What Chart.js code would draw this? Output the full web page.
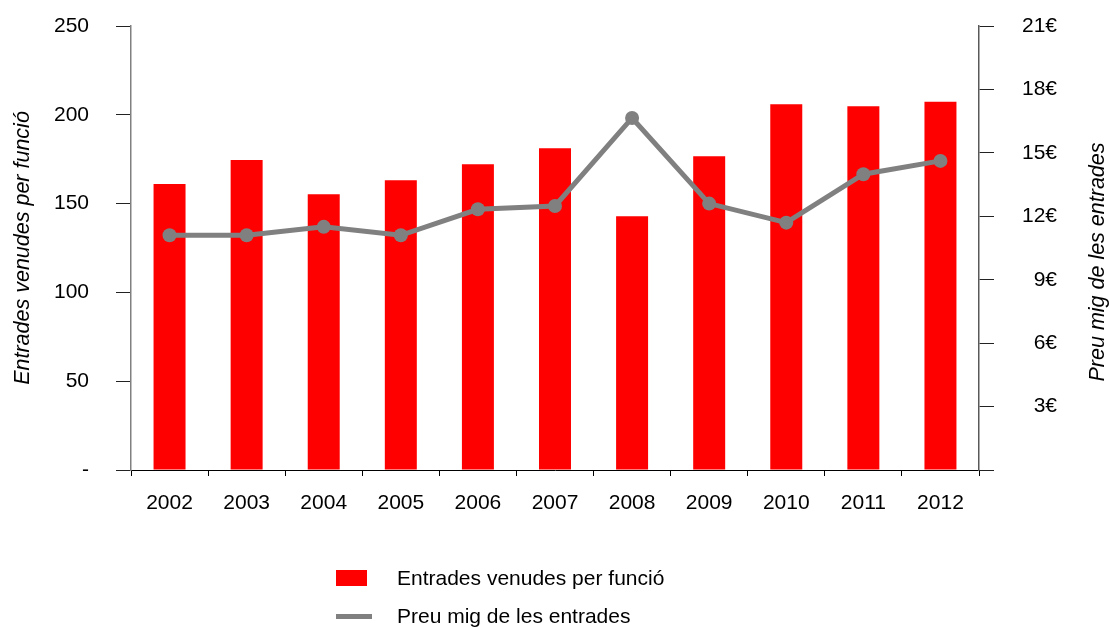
<!DOCTYPE html>
<html>
<head>
<meta charset="utf-8">
<script src="https://cdn.jsdelivr.net/npm/chart.js@4.4.1/dist/chart.umd.min.js"></script>
<style>
  html, body { margin: 0; padding: 0; background: #fff; }
  #wrap { width: 1110px; height: 627px; }
</style>
</head>
<body>
<div id="wrap"><canvas id="c" width="1110" height="627"></canvas></div>
<script>
const years = ['2002','2003','2004','2005','2006','2007','2008','2009','2010','2011','2012'];
const entrades = [161, 174.5, 155.3, 163.2, 172.2, 181.2, 142.9, 176.7, 206, 204.8, 207.3];
const preu = [11.1, 11.1, 11.5, 11.1, 12.33, 12.49, 16.65, 12.6, 11.7, 13.99, 14.62];
const labelBars = 'Entrades venudes per funció';
const labelLine = 'Preu mig de les entrades';
const leftTitle = 'Entrades venudes per funció';
const rightTitle = 'Preu mig de les entrades';

Chart.defaults.font.family = '"Liberation Sans", Arial, sans-serif';
Chart.defaults.color = '#000';

const FONT = 21;

const customDraw = {
  id: 'customDraw',
  afterDraw(chart) {
    const ctx = chart.ctx;
    const ds = chart.data.datasets;
    ctx.save();
    // right axis title, reading bottom to top
    ctx.font = 'italic 21.5px "Liberation Sans", Arial, sans-serif';
    ctx.fillStyle = '#000';
    ctx.textAlign = 'center';
    ctx.textBaseline = 'middle';
    ctx.translate(1098, 262);
    ctx.rotate(-Math.PI / 2);
    ctx.fillText(rightTitle, 0, 0);
    ctx.restore();

    // legend
    ctx.save();
    ctx.font = FONT + 'px "Liberation Sans", Arial, sans-serif';
    ctx.fillStyle = '#000';
    ctx.textAlign = 'left';
    ctx.textBaseline = 'middle';
    const bar = ds.find(d => d.type === 'bar');
    const line = ds.find(d => d.type === 'line');
    ctx.fillStyle = bar.backgroundColor;
    ctx.fillRect(336, 570, 31, 16);
    ctx.fillStyle = '#000';
    ctx.fillText(bar.label, 397, 579);
    ctx.strokeStyle = line.borderColor;
    ctx.lineWidth = 5;
    ctx.beginPath();
    ctx.moveTo(336, 616.5);
    ctx.lineTo(372, 616.5);
    ctx.stroke();
    ctx.fillText(line.label, 397, 617);
    ctx.restore();
  }
};

function fitY(w) {
  return function (s) {
    s.width = w;
    s.paddingTop = 0;
    s.paddingBottom = 0;
  };
}

new Chart(document.getElementById('c'), {
  data: {
    labels: years,
    datasets: [
      {
        type: 'line',
        label: labelLine,
        data: preu,
        yAxisID: 'y2',
        borderColor: '#808080',
        backgroundColor: '#808080',
        borderWidth: 5,
        pointRadius: 7,
        pointBackgroundColor: '#808080',
        pointBorderWidth: 0,
        tension: 0,
        order: 0
      },
      {
        type: 'bar',
        label: labelBars,
        data: entrades,
        yAxisID: 'y',
        backgroundColor: '#ff0000',
        barPercentage: 0.415,
        categoryPercentage: 1,
        order: 1
      }
    ]
  },
  options: {
    responsive: false,
    animation: false,
    devicePixelRatio: 1,
    layout: { padding: { top: 26, left: 0, right: 53, bottom: 0 } },
    plugins: { legend: { display: false }, tooltip: { enabled: false } },
    scales: {
      x: {
        type: 'category',
        offset: true,
        grid: { offset: true, drawOnChartArea: false, drawTicks: true, tickLength: 6, color: '#000', lineWidth: 1 },
        border: { display: true, color: '#000', width: 1 },
        ticks: { font: { size: FONT }, padding: 15, maxRotation: 0, autoSkip: false },
        afterFit(s) { s.height = 157; s.paddingLeft = 0; s.paddingRight = 0; }
      },
      y: {
        position: 'left',
        min: 0, max: 250,
        grid: { drawOnChartArea: false, drawTicks: true, tickLength: 15, color: '#222', lineWidth: 1 },
        border: { display: true, color: '#808080', width: 1.5 },
        ticks: {
          stepSize: 50,
          font: { size: FONT },
          padding: 27,
          callback: v => v === 0 ? '-' : String(v)
        },
        title: {
          display: true,
          text: leftTitle,
          font: { size: 21.5, style: 'italic' },
          padding: { top: 10, bottom: 0 }
        },
        afterFit: fitY(131)
      },
      y2: {
        position: 'right',
        min: 0, max: 21,
        grid: { drawOnChartArea: false, drawTicks: true, tickLength: 15, color: '#222', lineWidth: 1 },
        border: { display: true, color: '#595959', width: 1.5 },
        ticks: {
          stepSize: 3,
          font: { size: FONT },
          padding: 26,
          crossAlign: 'far',
          callback: v => v === 0 ? '' : v + '€'
        },
        afterFit: fitY(78)
      }
    }
  },
  plugins: [customDraw]
});
</script>
</body>
</html>
